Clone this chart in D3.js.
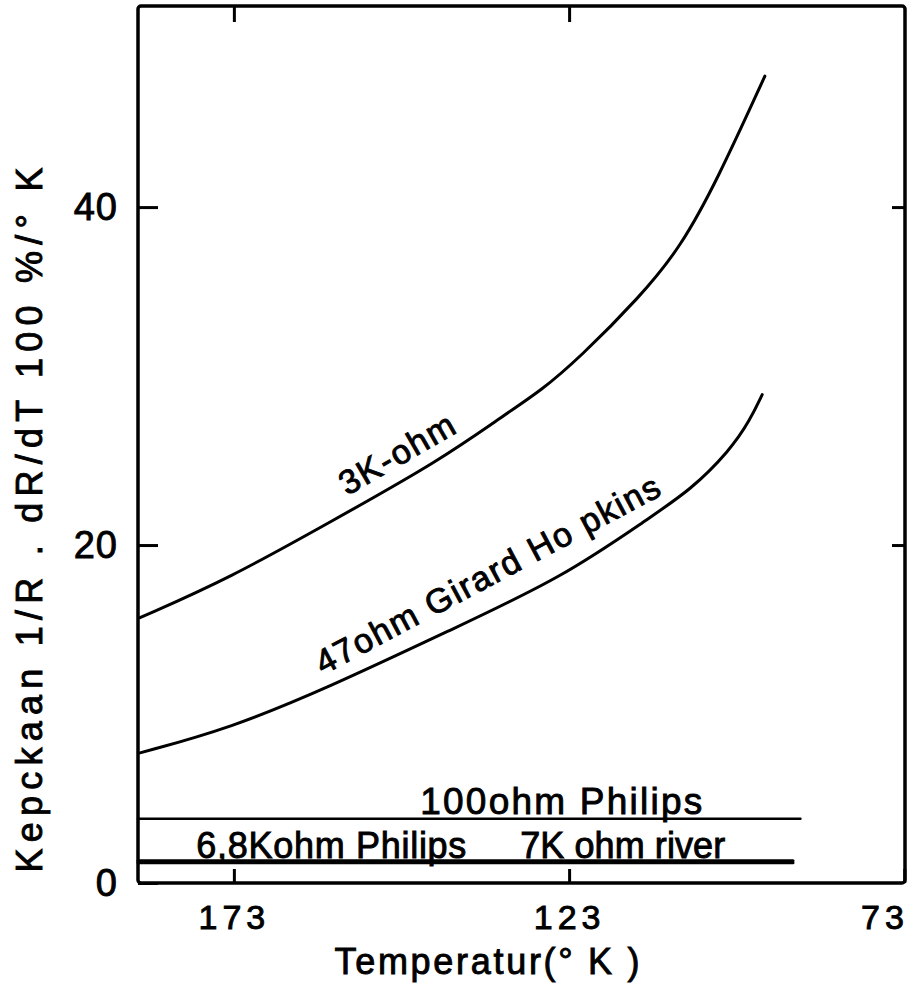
<!DOCTYPE html>
<html>
<head>
<meta charset="utf-8">
<script src="https://cdn.jsdelivr.net/npm/d3@7"></script>
<style>
  body { margin: 0; background: #fff; }
  text { font-family: "Liberation Sans", Arial, sans-serif; fill: #000; stroke: #000; stroke-width: 0.9px; }
</style>
</head>
<body>
<svg id="chart" width="911" height="990"></svg>
<script>
// temperature (K) vs sensitivity (%/K)
var temps3k  = [187.0, 173.6, 158.7, 142.3, 132.3, 127.3, 121.4, 112.4, 106.4, 100.9, 93.8];
var vals3k   = [15.7, 18.05, 21.35, 25.0, 27.8, 29.1, 31.1, 34.7, 37.6, 41.6, 47.75];
var temps47  = [187.0, 173.6, 158.7, 140.8, 123.9, 110.9, 104.9, 99.0, 96.0, 94.2];
var vals47   = [7.7, 9.15, 11.6, 14.95, 18.1, 21.65, 23.25, 25.6, 27.4, 28.9];
var temps100 = [187.3, 88.5];
var vals100  = [3.8, 3.8];
var temps68k = [187.3, 89.6];
var vals68k  = [1.2, 1.2];
var temps7k  = [187.3, 89.6];
var vals7k   = [1.32, 1.32];

var xTicks = [173, 123, 73];
var yTicks = [0, 20, 40];

var svg = d3.select("#chart");
var x = d3.scaleLinear().domain([187.3, 72.9]).range([138, 905]);
var y = d3.scaleLinear().domain([0, 51.9]).range([883, 6]);

var line = d3.line()
    .x(function (d) { return x(d[0]); })
    .y(function (d) { return y(d[1]); })
    .curve(d3.curveBasis);

function pairs(t, v) { return t.map(function (d, i) { return [d, v[i]]; }); }

var series = [
  {t: temps3k, v: vals3k, w: 3},
  {t: temps47, v: vals47, w: 3},
  {t: temps100, v: vals100, w: 2.6},
  {t: temps68k, v: vals68k, w: 3},
  {t: temps7k, v: vals7k, w: 3}
];

svg.selectAll("path.curve")
  .data(series)
  .enter().append("path")
    .attr("class", "curve")
    .attr("d", function (d) { return line(pairs(d.t, d.v)); })
    .attr("fill", "none")
    .attr("stroke", "#000")
    .attr("stroke-width", function (d) { return d.w; })
    .attr("stroke-linecap", "round");

// axes, ticks pointing inward
var bottom = svg.append("g").attr("transform", "translate(0," + y(0) + ")")
  .call(d3.axisBottom(x).tickValues(xTicks).tickSizeInner(-14).tickSizeOuter(0).tickPadding(22));
var top = svg.append("g").attr("transform", "translate(0," + y.range()[1] + ")")
  .call(d3.axisTop(x).tickValues(xTicks.slice(0, 2)).tickSizeInner(-16).tickSizeOuter(0).tickFormat(""));
var left = svg.append("g").attr("transform", "translate(" + x.range()[0] + ",0)")
  .call(d3.axisLeft(y).tickValues(yTicks).tickSizeInner(-20).tickSizeOuter(0).tickPadding(20));
var right = svg.append("g").attr("transform", "translate(" + x.range()[1] + ",0)")
  .call(d3.axisRight(y).tickValues(yTicks.slice(1)).tickSizeInner(-13).tickSizeOuter(0).tickFormat(""));

svg.selectAll(".domain").remove();
svg.selectAll(".tick line").attr("stroke", "#000").attr("stroke-width", 3);

bottom.selectAll(".tick text")
  .attr("font-size", 34).attr("letter-spacing", 5).style("font-family", "Liberation Sans");
bottom.selectAll(".tick text").filter(function (d) { return d === 73; })
  .attr("text-anchor", "end").attr("x", 4);
left.selectAll(".tick text")
  .attr("font-size", 38).attr("letter-spacing", 1).style("font-family", "Liberation Sans");

svg.append("rect")
  .attr("x", x.range()[0]).attr("y", y.range()[1])
  .attr("width", x.range()[1] - x.range()[0]).attr("height", y(0) - y.range()[1])
  .attr("rx", 3)
  .attr("fill", "none").attr("stroke", "#000").attr("stroke-width", 3.5);

// axis titles
svg.append("text")
  .attr("x", 487).attr("y", 974)
  .attr("text-anchor", "middle")
  .attr("font-size", 36)
  .attr("textLength", 305).attr("lengthAdjust", "spacing")
  .text("Temperatur(° K )");

svg.append("text")
  .attr("transform", "translate(42,520) rotate(-90)")
  .attr("text-anchor", "middle")
  .attr("font-size", 36)
  .attr("textLength", 705).attr("lengthAdjust", "spacing")
  .text("Kepckaan 1/R . dR/dT 100 %/° K");

// curve labels, anchored in data units
var labels = [
  {text: "3K-ohm", t: 156.1, v: 22.9, angle: -30, size: 34, len: 128},
  {text: "47ohm Girard Ho pkins", t: 159.7, v: 12.3, angle: -28, size: 34, len: 385},
  {text: "100ohm Philips", t: 145.2, v: 4.1, angle: 0, size: 37, len: 282},
  {text: "6,8Kohm Philips", t: 178.6, v: 1.5, angle: 0, size: 36, len: 270},
  {text: "7K ohm river", t: 130.3, v: 1.5, angle: 0, size: 36, len: 205}
];

svg.selectAll("text.lab")
  .data(labels)
  .enter().append("text")
    .attr("class", "lab")
    .attr("transform", function (d) {
      return "translate(" + x(d.t) + "," + y(d.v) + ") rotate(" + d.angle + ")";
    })
    .attr("font-size", function (d) { return d.size; })
    .attr("textLength", function (d) { return d.len; })
    .attr("lengthAdjust", "spacing")
    .text(function (d) { return d.text; });
</script>
</body>
</html>
